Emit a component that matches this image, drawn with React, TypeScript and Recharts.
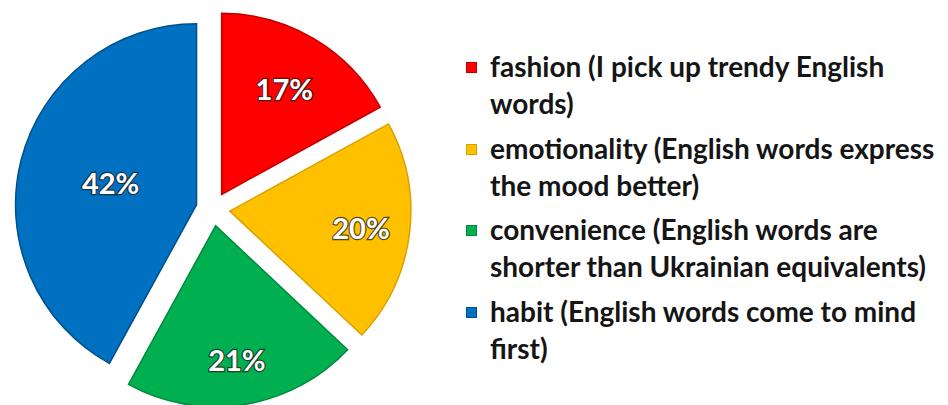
import { PieChart, Pie, Cell, Legend, Sector } from 'recharts';

const categories = [
  'fashion (I pick up trendy English\nwords)',
  'emotionality (English words express\nthe mood better)',
  'convenience (English words are\nshorter than Ukrainian equivalents)',
  'habit (English words come to mind\nfirst)',
];
const shares = [17, 20, 21, 42];
const fills = ['#FF0000', '#FFC000', '#00B050', '#0070C0'];
const strokes = ['#C00000', '#D9A000', '#008A3C', '#004F8C'];

// how far from the slice tip each % label sits (share of radius)
const labelPos = [0.68, 0.73, 0.75, 0.49];
const EXPLODE = 17;
const RAD = Math.PI / 180;

const data = categories.map((name, i) => ({ name, value: shares[i] }));

const shift = (midAngle: number) => ({
  dx: EXPLODE * Math.cos(-midAngle * RAD),
  dy: EXPLODE * Math.sin(-midAngle * RAD),
});

const renderSlice = (props: any) => {
  const { dx, dy } = shift(props.midAngle);
  const i = props.index ?? 0;
  return (
    <Sector
      cx={props.cx + dx}
      cy={props.cy + dy}
      innerRadius={0}
      outerRadius={props.outerRadius}
      startAngle={props.startAngle}
      endAngle={props.endAngle}
      fill={fills[i]}
      stroke={strokes[i]}
      strokeWidth={1.5}
    />
  );
};

const renderLabel = (props: any) => {
  const { cx, cy, midAngle, outerRadius, index, value } = props;
  const { dx, dy } = shift(midAngle);
  const r = outerRadius * labelPos[index];
  const x = cx + dx + r * Math.cos(-midAngle * RAD);
  const y = cy + dy + r * Math.sin(-midAngle * RAD);
  return (
    <text
      x={x}
      y={y}
      textAnchor="middle"
      dominantBaseline="central"
      fill="#fff"
      stroke="rgba(30,30,30,0.75)"
      strokeWidth={2.5}
      paintOrder="stroke"
      fontFamily="Lato, sans-serif"
      fontWeight={700}
      fontSize={29}
    >
      {value}%
    </text>
  );
};

const renderLegend = (props: any) => (
  <div style={{ fontFamily: 'Lato, sans-serif', fontWeight: 700, fontSize: 28, color: '#151515' }}>
    {(props.payload || []).map((p: any, i: number) => (
      <div key={i} style={{ display: 'flex', alignItems: 'flex-start', marginBottom: 7.5 }}>
        <span
          style={{
            width: 9,
            height: 9,
            marginTop: 14,
            marginRight: 13,
            background: fills[i],
            border: `1px solid ${strokes[i]}`,
            flexShrink: 0,
          }}
        />
        <span style={{ whiteSpace: 'pre-line', lineHeight: '37px' }}>{categories[i]}</span>
      </div>
    ))}
  </div>
);

export default function App() {
  return (
    <div style={{ position: 'absolute', left: 0, top: 0, background: '#fff' }}>
      <PieChart width={948} height={405}>
        <Pie
          data={data}
          dataKey="value"
          nameKey="name"
          cx={208}
          cy={204}
          outerRadius={181}
          startAngle={90}
          endAngle={-270}
          shape={renderSlice}
          label={renderLabel}
          labelLine={false}
          isAnimationActive={false}
        >
          {data.map((d, i) => (
            <Cell key={d.name} fill={fills[i]} stroke={strokes[i]} />
          ))}
        </Pie>
        <Legend
          layout="vertical"
          content={renderLegend}
          wrapperStyle={{ left: 466, top: 48, width: 482 }}
        />
      </PieChart>
    </div>
  );
}
